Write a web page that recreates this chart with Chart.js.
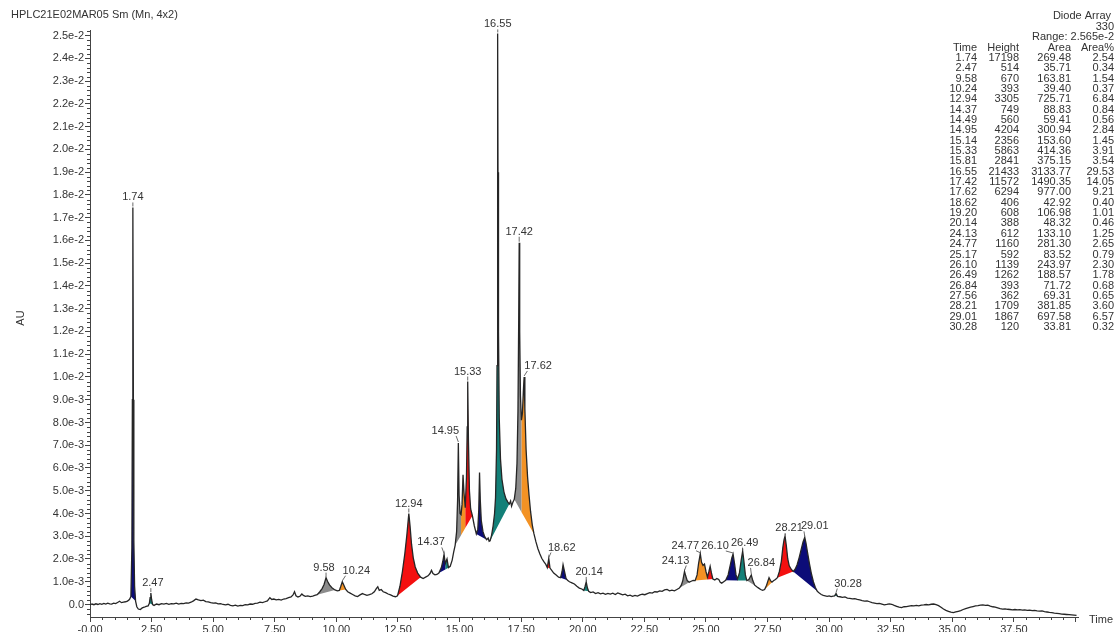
<!DOCTYPE html>
<html><head><meta charset="utf-8">
<script src="https://cdn.jsdelivr.net/npm/chart.js@4.4.0/dist/chart.umd.min.js"></script>
<style>html,body{margin:0;padding:0;background:#fff;overflow:hidden}canvas{display:block}</style>
</head><body>
<canvas id="c" width="1118" height="632"></canvas>
<script>
// ---- chromatogram trace: [time (min), signal (1e-3 AU)] ----
const trace = [
[0.00,-0.02],[0.08,0.02],[0.16,-0.01],[0.24,0.03],[0.32,0.00],[0.40,0.04],[0.48,0.01],[0.56,0.05],[0.64,0.02],[0.72,0.06],
[0.80,0.03],[0.88,0.02],[0.96,0.06],[1.04,0.04],[1.12,0.09],[1.20,0.14],[1.28,0.08],[1.36,0.10],[1.44,0.12],[1.52,0.15],
[1.60,0.22],[1.66,0.35],[1.70,2.5],[1.72,9.0],[1.74,17.45],[1.76,9.0],[1.78,2.8],[1.81,0.8],[1.85,0.15],[1.90,-0.10],
[1.96,-0.20],[2.04,-0.22],[2.12,-0.15],[2.20,-0.12],[2.28,-0.08],[2.36,-0.06],[2.41,0.05],[2.44,0.30],[2.47,0.50],[2.50,0.22],
[2.54,0.00],[2.60,-0.04],[2.70,0.02],[2.80,-0.01],[2.90,0.04],[3.00,0.02],[3.10,0.05],[3.20,0.01],[3.30,0.04],[3.40,0.03],
[3.50,0.06],[3.60,0.02],[3.70,0.05],[3.80,0.04],[3.90,0.07],[4.00,0.06],[4.10,0.10],[4.20,0.16],[4.30,0.24],[4.40,0.20],
[4.50,0.17],[4.60,0.19],[4.70,0.13],[4.80,0.11],[4.90,0.08],[5.00,0.06],[5.10,0.07],[5.20,0.03],[5.30,0.04],[5.40,0.00],
[5.50,-0.02],[5.60,0.01],[5.70,-0.04],[5.80,-0.06],[5.90,-0.03],[6.00,-0.07],[6.10,-0.04],[6.20,-0.05],[6.30,-0.01],[6.40,-0.02],
[6.50,0.02],[6.60,0.01],[6.70,0.05],[6.80,0.06],[6.90,0.10],[7.00,0.08],[7.10,0.12],[7.20,0.16],[7.30,0.30],[7.38,0.22],
[7.46,0.24],[7.56,0.20],[7.66,0.22],[7.76,0.19],[7.86,0.24],[7.96,0.26],[8.06,0.30],[8.16,0.33],[8.24,0.42],[8.30,0.56],
[8.36,0.38],[8.44,0.33],[8.52,0.36],[8.60,0.46],[8.66,0.40],[8.74,0.36],[8.84,0.38],[8.94,0.35],[9.04,0.37],[9.12,0.40],
[9.22,0.43],[9.32,0.55],[9.42,0.70],[9.50,0.88],[9.58,1.18],[9.64,1.02],[9.72,0.86],[9.82,0.74],[9.94,0.64],[10.04,0.60],
[10.12,0.62],[10.18,0.80],[10.24,1.00],[10.30,0.86],[10.38,0.66],[10.46,0.56],[10.56,0.50],[10.66,0.44],[10.76,0.38],[10.86,0.35],
[10.96,0.42],[11.06,0.48],[11.14,0.44],[11.24,0.40],[11.34,0.43],[11.44,0.47],[11.54,0.56],[11.62,0.70],[11.68,0.78],[11.74,0.62],
[11.82,0.66],[11.90,0.56],[12.00,0.52],[12.10,0.46],[12.20,0.42],[12.30,0.37],[12.40,0.34],[12.48,0.38],[12.58,0.80],[12.68,1.45],
[12.78,2.25],[12.86,3.05],[12.94,4.00],[12.99,3.45],[13.05,2.65],[13.12,2.05],[13.20,1.65],[13.30,1.38],[13.42,1.20],[13.52,1.14],
[13.62,1.20],[13.72,1.26],[13.80,1.36],[13.86,1.50],[13.92,1.36],[14.00,1.30],[14.08,1.32],[14.16,1.38],[14.26,1.62],[14.32,1.90],
[14.37,2.20],[14.42,1.80],[14.49,2.00],[14.55,1.62],[14.62,1.68],[14.70,1.95],[14.76,2.30],[14.82,2.60],[14.88,3.20],[14.92,4.60],
[14.95,7.10],[14.98,4.80],[15.02,4.00],[15.06,3.95],[15.10,4.40],[15.14,5.70],[15.18,4.90],[15.23,4.25],[15.28,5.60],[15.31,7.80],
[15.33,9.80],[15.36,7.20],[15.40,5.00],[15.45,4.20],[15.52,3.90],[15.60,3.45],[15.68,3.10],[15.74,3.30],[15.78,4.20],[15.81,5.80],
[15.84,4.60],[15.88,3.70],[15.95,3.20],[16.02,2.98],[16.10,2.85],[16.16,2.92],[16.20,2.78],[16.24,2.80],[16.30,3.05],[16.36,3.45],
[16.42,4.00],[16.46,4.70],[16.50,6.80],[16.52,10.5],[16.54,18.0],[16.55,25.1],[16.56,19.0],[16.58,12.0],[16.61,8.2],[16.66,6.4],
[16.72,5.5],[16.80,4.95],[16.88,4.65],[16.96,4.50],[17.02,4.42],[17.07,4.55],[17.11,4.32],[17.16,4.48],[17.22,4.62],[17.28,5.10],
[17.33,6.20],[17.37,8.50],[17.40,12.5],[17.42,15.9],[17.44,12.0],[17.47,9.20],[17.51,8.10],[17.55,8.40],[17.59,9.40],[17.62,10.0],
[17.65,8.60],[17.70,6.80],[17.76,5.60],[17.82,4.80],[17.88,4.10],[17.95,3.50],[18.02,3.10],[18.10,2.75],[18.18,2.45],[18.26,2.22],
[18.34,2.02],[18.42,1.88],[18.50,1.76],[18.56,1.62],[18.62,2.02],[18.67,1.60],[18.74,1.50],[18.82,1.38],[18.92,1.30],[19.02,1.20],
[19.10,1.18],[19.16,1.45],[19.20,1.75],[19.25,1.50],[19.32,1.15],[19.38,1.06],[19.46,1.00],[19.56,0.95],[19.66,0.90],[19.76,0.80],
[19.86,0.72],[19.96,0.68],[20.04,0.62],[20.09,0.78],[20.14,0.99],[20.19,0.72],[20.24,0.58],[20.32,0.52],[20.42,0.55],[20.52,0.48],
[20.62,0.52],[20.72,0.47],[20.82,0.50],[20.92,0.45],[21.02,0.49],[21.12,0.46],[21.22,0.50],[21.32,0.44],[21.42,0.51],[21.52,0.47],
[21.62,0.42],[21.72,0.45],[21.82,0.38],[21.92,0.41],[22.02,0.36],[22.12,0.40],[22.22,0.37],[22.32,0.42],[22.42,0.45],[22.52,0.43],
[22.62,0.48],[22.72,0.52],[22.82,0.50],[22.92,0.56],[23.02,0.55],[23.12,0.60],[23.22,0.58],[23.32,0.64],[23.42,0.66],[23.52,0.60],
[23.62,0.63],[23.72,0.60],[23.82,0.66],[23.92,0.72],[24.00,0.85],[24.06,1.05],[24.13,1.45],[24.18,1.25],[24.24,1.05],[24.32,0.98],
[24.40,1.02],[24.48,1.06],[24.56,1.05],[24.64,1.30],[24.70,1.80],[24.77,2.23],[24.82,1.85],[24.88,1.72],[24.94,1.78],[25.00,1.45],
[25.06,1.20],[25.12,1.45],[25.17,1.68],[25.22,1.40],[25.28,1.12],[25.36,1.08],[25.44,1.14],[25.52,1.10],[25.58,0.98],[25.64,0.94],
[25.72,1.00],[25.80,1.06],[25.90,1.30],[25.98,1.70],[26.05,2.05],[26.10,2.22],[26.16,1.80],[26.22,1.30],[26.28,1.12],[26.36,1.40],
[26.43,1.95],[26.49,2.35],[26.54,1.90],[26.60,1.30],[26.66,1.05],[26.74,1.10],[26.80,1.22],[26.84,1.30],[26.90,1.05],[26.98,0.85],
[27.06,0.78],[27.14,0.72],[27.22,0.66],[27.30,0.62],[27.38,0.66],[27.46,0.85],[27.52,1.05],[27.56,1.18],[27.62,1.05],[27.68,0.98],
[27.74,1.04],[27.82,1.10],[27.90,1.18],[27.98,1.45],[28.06,1.90],[28.12,2.50],[28.17,2.85],[28.21,3.00],[28.26,2.60],[28.32,2.00],
[28.38,1.70],[28.46,1.55],[28.54,1.45],[28.62,1.55],[28.70,1.75],[28.78,2.05],[28.86,2.40],[28.94,2.75],[29.01,2.95],[29.06,2.70],
[29.12,2.30],[29.20,1.80],[29.28,1.35],[29.36,1.00],[29.44,0.75],[29.52,0.58],[29.60,0.50],[29.68,0.44],[29.76,0.40],[29.84,0.38],
[29.92,0.36],[30.00,0.38],[30.08,0.35],[30.16,0.37],[30.22,0.38],[30.28,0.48],[30.34,0.36],[30.44,0.34],[30.54,0.31],[30.64,0.33],
[30.74,0.28],[30.84,0.27],[30.94,0.25],[31.04,0.26],[31.14,0.22],[31.24,0.20],[31.34,0.17],[31.44,0.15],[31.54,0.16],[31.64,0.12],
[31.74,0.08],[31.84,0.06],[31.94,0.04],[32.04,0.05],[32.14,0.02],[32.24,-0.02],[32.34,0.00],[32.44,0.03],[32.54,0.01],[32.64,-0.04],
[32.74,-0.08],[32.84,-0.12],[32.94,-0.14],[33.04,-0.10],[33.14,-0.09],[33.24,-0.07],[33.34,-0.05],[33.44,-0.06],[33.54,-0.04],[33.64,-0.06],
[33.74,-0.03],[33.84,-0.02],[33.94,0.00],[34.04,-0.02],[34.14,0.01],[34.24,0.02],[34.34,-0.01],[34.44,-0.05],[34.54,-0.12],[34.64,-0.20],
[34.74,-0.26],[34.84,-0.30],[34.94,-0.34],[35.04,-0.36],[35.14,-0.33],[35.24,-0.30],[35.34,-0.27],[35.44,-0.22],[35.54,-0.18],[35.64,-0.15],
[35.74,-0.12],[35.84,-0.09],[35.94,-0.06],[36.04,-0.05],[36.14,-0.03],[36.24,-0.02],[36.34,-0.04],[36.44,-0.03],[36.54,-0.07],[36.64,-0.10],
[36.74,-0.12],[36.84,-0.15],[36.94,-0.18],[37.04,-0.20],[37.14,-0.19],[37.24,-0.21],[37.34,-0.22],[37.44,-0.24],[37.54,-0.22],[37.64,-0.24],
[37.74,-0.23],[37.84,-0.25],[37.94,-0.24],[38.04,-0.26],[38.14,-0.25],[38.24,-0.27],[38.34,-0.26],[38.44,-0.28],[38.54,-0.29],[38.64,-0.28],
[38.74,-0.31],[38.84,-0.33],[38.94,-0.35],[39.04,-0.36],[39.14,-0.38],[39.24,-0.39],[39.34,-0.40],[39.44,-0.42],[39.54,-0.43],[39.64,-0.44],
[39.74,-0.45],[39.84,-0.46],[39.94,-0.47],[40.04,-0.48]
];

// ---- peak table ----
const peakTime   = [1.74,2.47,9.58,10.24,12.94,14.37,14.49,14.95,15.14,15.33,15.81,16.55,17.42,17.62,18.62,19.20,20.14,24.13,24.77,25.17,26.10,26.49,26.84,27.56,28.21,29.01,30.28];
const peakHeight = [17198,514,670,393,3305,749,560,4204,2356,5863,2841,21433,11572,6294,406,608,388,612,1160,592,1139,1262,393,362,1709,1867,120];
const peakArea   = [269.48,35.71,163.81,39.40,725.71,88.83,59.41,300.94,153.60,414.36,375.15,3133.77,1490.35,977.00,42.92,106.98,48.32,133.10,281.30,83.52,243.97,188.57,71.72,69.31,381.85,697.58,33.81];
const peakAreaPct= [2.54,0.34,1.54,0.37,6.84,0.84,0.56,2.84,1.45,3.91,3.54,29.53,14.05,9.21,0.40,1.01,0.46,1.25,2.65,0.79,2.30,1.78,0.68,0.65,3.60,6.57,0.32];

// integration limits of each peak and of its baseline (minutes)
const fillFrom = [1.66,2.41,9.22,10.12,12.48,14.16,14.42,14.82,15.06,15.23,15.68,16.24,17.22,17.51,18.56,19.10,20.04,23.92,24.56,25.06,25.80,26.28,26.66,27.38,27.90,28.54,30.22];
const fillTo   = [1.85,2.54,9.94,10.38,13.42,14.42,14.55,15.06,15.23,15.52,16.10,17.02,17.51,18.02,18.67,19.38,20.24,24.32,25.06,25.28,26.28,26.66,27.06,27.68,28.54,29.52,30.34];
const baseFrom = [1.66,2.41,9.22,10.12,12.48,14.16,14.16,14.82,14.82,14.82,15.68,16.24,17.22,17.22,18.56,19.10,20.04,23.92,24.56,24.56,25.80,25.80,26.66,27.38,27.90,28.54,30.22];
const baseTo   = [1.85,2.54,9.94,10.38,13.42,14.55,14.55,15.52,15.52,15.52,16.10,17.02,18.02,18.02,18.67,19.38,20.24,24.32,25.28,25.28,26.66,26.66,27.06,27.68,28.54,29.52,30.34];

// labelled peaks
const labelTime = [1.74,2.47,9.58,10.24,12.94,14.37,14.95,15.33,16.55,17.42,17.62,18.62,20.14,24.13,24.77,26.10,26.49,26.84,28.21,29.01,30.28];

// axis tick labels
const xTickLabels = ['-0.00','2.50','5.00','7.50','10.00','12.50','15.00','17.50','20.00','22.50','25.00','27.50','30.00','32.50','35.00','37.50',''];
const yTickLabels = ['0.0','1.0e-3','2.0e-3','3.0e-3','4.0e-3','5.0e-3','6.0e-3','7.0e-3','8.0e-3','9.0e-3','1.0e-2','1.1e-2','1.2e-2','1.3e-2','1.4e-2','1.5e-2','1.6e-2','1.7e-2','1.8e-2','1.9e-2','2.0e-2','2.1e-2','2.2e-2','2.3e-2','2.4e-2','2.5e-2'];

// ---- styles (kept apart from the data) ----
const palette = ['#0c0c78','#138078','#8c8c8c','#f39224','#f41010'];
const fillColor = peakTime.map((_, i) => palette[i % 5]);
const labelDx = [0,2,-2,14,0,-13,-13,0,0,0,14,13,3,-9,-15,-18,2,10,4,10,12];
const labelDy = [-10,-10,-10,-11,-10,-12,-12,-10,-9,-11,-11,-11,-10,-11,-8,-8,-8,-12,-8,-11,-10];
const FONT = '"Liberation Sans", Arial, sans-serif';
const TXT = '#333';

function valAt(t) {
  for (let i = 1; i < trace.length; i++) {
    if (trace[i][0] >= t - 1e-9) {
      const [t0, v0] = trace[i - 1], [t1, v1] = trace[i];
      return v0 + (v1 - v0) * (t - t0) / (t1 - t0);
    }
  }
  return trace[trace.length - 1][1];
}
function baseAt(i, t) {
  const a = baseFrom[i], b = baseTo[i];
  const va = valAt(a), vb = valAt(b);
  return va + (vb - va) * (t - a) / (b - a);
}

const fillSets = peakTime.map((pt, i) => {
  const pts = [{x: fillFrom[i], y: baseAt(i, fillFrom[i])}];
  trace.forEach(([t, v]) => { if (t >= fillFrom[i] - 1e-9 && t <= fillTo[i] + 1e-9) pts.push({x: t, y: v}); });
  pts.push({x: fillTo[i], y: baseAt(i, fillTo[i])});
  return {data: pts, fill: 'shape', backgroundColor: fillColor[i], borderColor: 'rgba(0,0,0,0)', borderWidth: 0, pointRadius: 0, tension: 0};
});

const annot = {
  id: 'annot',
  afterDraw(chart) {
    const {ctx, chartArea: a, scales: {x, y}} = chart;
    ctx.save();
    // minor ticks
    ctx.strokeStyle = '#444'; ctx.lineWidth = 1;
    ctx.beginPath();
    for (let k = 1; k <= 80; k++) {
      if (k % 5 === 0) continue;
      const t = k * 0.5; if (t > x.max) break;
      const px = Math.round(x.getPixelForValue(t)) + 0.5;
      ctx.moveTo(px, a.bottom); ctx.lineTo(px, a.bottom + 3);
    }
    for (let k = -2; k <= 126; k++) {
      if (k % 5 === 0) continue;
      const v = k * 0.2; if (v < y.min || v > y.max) continue;
      const py = Math.round(y.getPixelForValue(v)) + 0.5;
      ctx.moveTo(a.left, py); ctx.lineTo(a.left - 3, py);
    }
    ctx.stroke();

    ctx.fillStyle = TXT;
    ctx.font = '11px ' + FONT;
    ctx.textBaseline = 'middle';
    // title
    ctx.textAlign = 'left';
    ctx.fillText('HPLC21E02MAR05 Sm (Mn, 4x2)', 11, 15);
    // axis titles
    ctx.fillText('Time', 1089, 620);
    ctx.save(); ctx.translate(21, 318); ctx.rotate(-Math.PI / 2); ctx.textAlign = 'center'; ctx.fillText('AU', 0, 0); ctx.restore();

    // peak table
    ctx.textAlign = 'right';
    ctx.fillText('Diode Array', 1111, 16);
    ctx.fillText('330', 1114, 27);
    ctx.fillText('Range: 2.565e-2', 1114, 37);
    const hy = 47.5, dy = 10.35;
    ctx.fillText('Time', 977, hy); ctx.fillText('Height', 1019, hy); ctx.fillText('Area', 1071, hy); ctx.fillText('Area%', 1114, hy);
    peakTime.forEach((t, i) => {
      const ry = hy + dy * (i + 1);
      ctx.fillText(t.toFixed(2), 977, ry);
      ctx.fillText(String(peakHeight[i]), 1019, ry);
      ctx.fillText(peakArea[i].toFixed(2), 1071, ry);
      ctx.fillText(peakAreaPct[i].toFixed(2), 1114, ry);
    });

    // peak labels with leader lines
    ctx.textAlign = 'center';
    ctx.strokeStyle = '#444'; ctx.lineWidth = 0.8;
    labelTime.forEach((t, i) => {
      const tx = x.getPixelForValue(t), ty = y.getPixelForValue(valAt(t));
      const lx = tx + labelDx[i], ly = ty + labelDy[i];
      const txt = t.toFixed(2);
      const w = ctx.measureText(txt).width;
      ctx.fillText(txt, lx, ly);
      ctx.beginPath();
      if (Math.abs(labelDx[i]) >= 5) {
        const sx = lx - Math.sign(labelDx[i]) * (w / 2 - 3);
        ctx.moveTo(sx, ly + 5); ctx.lineTo(tx, ty - 1);
      } else if (ty - 1 - (ly + 5) > 1) {
        ctx.moveTo(tx, ly + 5); ctx.lineTo(tx, ty - 1);
      }
      ctx.stroke();
    });
    ctx.restore();
  }
};

Chart.defaults.font.family = FONT;
new Chart(document.getElementById('c'), {
  type: 'line',
  data: {
    datasets: [
      {data: trace.map(([t, v]) => ({x: t, y: v})), borderColor: '#262626', borderWidth: 1.3, pointRadius: 0, tension: 0, fill: false},
      ...fillSets
    ]
  },
  options: {
    responsive: false, animation: false, events: [],
    layout: {padding: {top: 30, right: 40, left: 0, bottom: 0}},
    plugins: {legend: {display: false}, tooltip: {enabled: false}, title: {display: false}},
    scales: {
      x: {
        type: 'linear', min: 0, max: 40.1,
        afterFit: s => { s.height = 15; },
        grid: {drawOnChartArea: false, tickLength: 5, color: '#444'},
        border: {color: '#444', width: 1},
        ticks: {stepSize: 2.5, includeBounds: false, autoSkip: false, maxRotation: 0, padding: 1, color: TXT, font: {size: 11},
          callback: v => xTickLabels[Math.round(v / 2.5)] ?? ''}
      },
      y: {
        type: 'linear', min: -0.55, max: 25.25,
        afterFit: s => { s.width = 90; },
        grid: {drawOnChartArea: false, tickLength: 5, color: '#444'},
        border: {color: '#444', width: 1},
        ticks: {stepSize: 1, includeBounds: false, autoSkip: false, padding: 1, color: TXT, font: {size: 11},
          callback: v => Number.isInteger(v) ? (yTickLabels[v] ?? '') : ''}
      }
    }
  },
  plugins: [annot]
});
</script>
</body></html>
